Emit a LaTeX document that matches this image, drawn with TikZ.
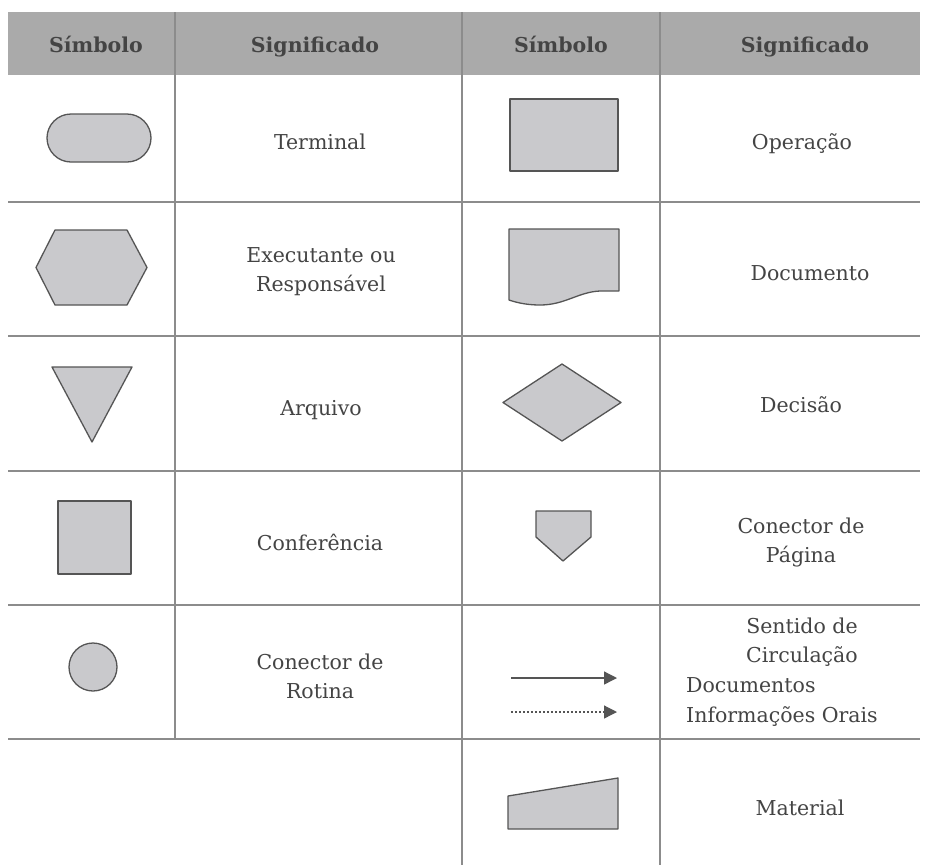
\documentclass[tikz,border=0pt]{standalone}
\usepackage{fontspec}
\setmainfont{DejaVu Serif}
\usetikzlibrary{arrows.meta}
\definecolor{hdr}{HTML}{AAAAAA}
\definecolor{shp}{HTML}{C9C9CC}
\definecolor{edgec}{HTML}{555555}
\definecolor{txt}{HTML}{444444}
\definecolor{gridc}{HTML}{8C8C8C}
\begin{document}
\begin{tikzpicture}[x=1pt,y=-1pt,
  gridline/.style={draw=gridc,line width=1.1pt},
  sym/.style={fill=shp,draw=edgec,line width=1.3pt,line join=round},
  lbl/.style={text=txt,font=\fontsize{20.5}{29}\selectfont,inner sep=0pt,anchor=base},
  hd/.style={text=txt,font=\fontsize{20.5}{24}\selectfont\bfseries,inner sep=0pt,anchor=base},
  flow/.style={draw=edgec,line width=1.3pt,-{Triangle[length=13pt,width=13pt]}},
  oral/.style={draw=edgec,line width=1.2pt,dash pattern=on 1.5pt off 2.5pt,-{Triangle[length=13pt,width=13pt]}}]
\useasboundingbox (0,0) rectangle (928,865);
\fill[white] (0,0) rectangle (928,865);
% header
\fill[hdr] (8,12) rectangle (920,75);
% grid
\draw[gridline] (8,202) -- (920,202);
\draw[gridline] (8,336) -- (920,336);
\draw[gridline] (8,471) -- (920,471);
\draw[gridline] (8,605) -- (920,605);
\draw[gridline] (8,739) -- (920,739);
\draw[gridline] (175,12) -- (175,739);
\draw[gridline] (462,12) -- (462,865);
\draw[gridline] (660,12) -- (660,865);
% header texts
\node[hd] (h1) at (96,52) {Símbolo};
\node[hd] (h2) at (315,52) {Significado};
\node[hd] (h3) at (561,52) {Símbolo};
\node[hd] (h4) at (805,52) {Significado};
% symbols
\draw[sym,rounded corners=24pt] (47,114) rectangle (151,162);
\draw[sym] (510,99) rectangle (618,171);
\draw[sym] (36,267.5) -- (55,230) -- (127,230) -- (147,267.5) -- (127,305) -- (55,305) -- cycle;
\draw[sym] (509,229) -- (619,229) -- (619,291) -- (600,291)
  .. controls (578,292) and (565,305) .. (540,305)
  .. controls (525,305) and (515,302) .. (509,300) -- cycle;
\draw[sym] (52,367) -- (132,367) -- (92,442) -- cycle;
\draw[sym] (562,364) -- (621,402.5) -- (562,441) -- (503,402.5) -- cycle;
\draw[sym] (58,501) rectangle (131,574);
\draw[sym] (536,511) -- (591,511) -- (591,537) -- (563,561) -- (536,537) -- cycle;
\draw[sym] (93,667) circle (24);
\draw[sym] (508,796) -- (618,778) -- (618,829) -- (508,829) -- cycle;
% arrows
\coordinate (a1s) at (511,678);
\coordinate (a1e) at (617,678);
\coordinate (a2s) at (511,712);
\coordinate (a2e) at (617,712);
\draw[flow] (a1s) -- (a1e);
\draw[oral] (a2s) -- (a2e);
% labels
\node[lbl] (t1) at (320,149) {Terminal};
\node[lbl] (t2) at (802,149) {Operação};
\node[lbl] (t3a) at (321,262) {Executante ou};
\node[lbl] (t3b) at (321,291) {Responsável};
\node[lbl] (t4) at (810,280) {Documento};
\node[lbl] (t5) at (321,415) {Arquivo};
\node[lbl] (t6) at (801,412) {Decisão};
\node[lbl] (t7) at (320,550) {Conferência};
\node[lbl] (t8a) at (801,533) {Conector de};
\node[lbl] (t8b) at (801,562) {Página};
\node[lbl] (t9a) at (320,669) {Conector de};
\node[lbl] (t9b) at (320,698) {Rotina};
\node[lbl] (t10a) at (802,633) {Sentido de};
\node[lbl] (t10b) at (802,662) {Circulação};
\node[lbl,anchor=base west] (t10c) at (686,692) {Documentos};
\node[lbl,anchor=base west] (t10d) at (686,722) {Informações Orais};
\node[lbl] (t11) at (800,815) {Material};
\end{tikzpicture}
\end{document}
